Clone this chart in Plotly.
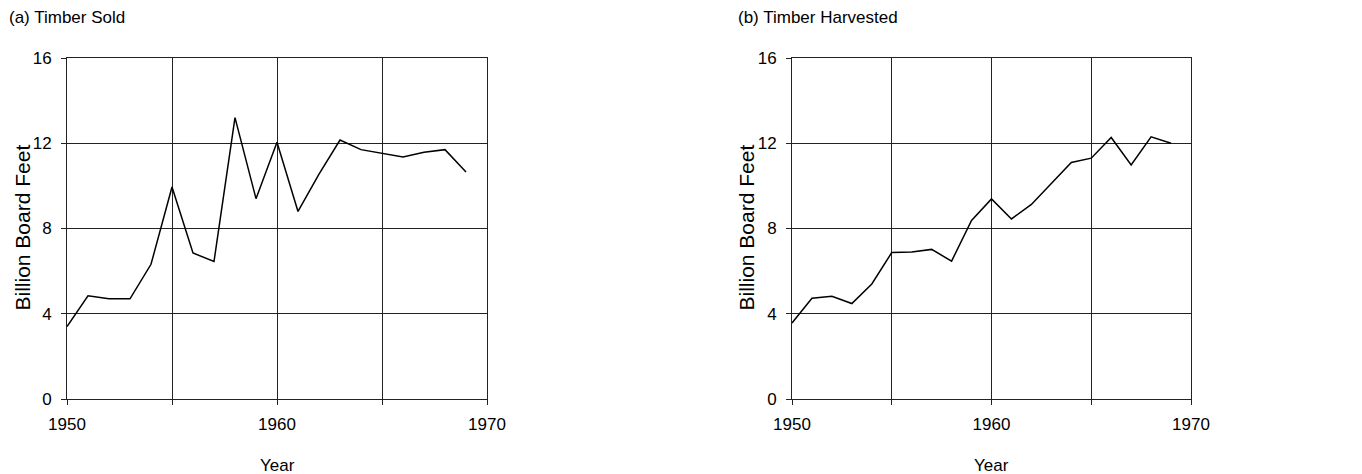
import plotly.graph_objects as go

years = list(range(1950, 1970))

# billion board feet
timber_sold = [3.40, 4.84, 4.70, 4.70, 6.32, 9.95, 6.85, 6.45, 13.2, 9.40,
               12.05, 8.80, 10.55, 12.15, 11.70, 11.52, 11.35, 11.58, 11.70, 10.65]
timber_harvested = [3.57, 4.73, 4.82, 4.48, 5.40, 6.87, 6.90, 7.02, 6.47, 8.38,
                    9.39, 8.45, 9.13, 10.10, 11.10, 11.30, 12.27, 10.98, 12.30, 12.00]

panel_titles = ["(a) Timber Sold", "(b) Timber Harvested"]
x_tickvals = [1950, 1955, 1960, 1965, 1970]
x_ticktext = ["1950", "", "1960", "", "1970"]
y_tickvals = [0, 4, 8, 12, 16]

FONT = "Liberation Sans, Arial, Helvetica, sans-serif"
# the page body has an 8px margin, so the figure is 8px smaller and
# every screen position is shifted by that amount
OFF = 8
W, H = 1362 - OFF, 474 - OFF


def px(x):
    return (x - OFF) / W


def py(y):
    return 1 - (y - OFF) / H


fig = go.Figure()
fig.add_trace(go.Scatter(x=years, y=timber_sold, mode="lines",
                         line=dict(color="black", width=1.5),
                         xaxis="x", yaxis="y", showlegend=False))
fig.add_trace(go.Scatter(x=years, y=timber_harvested, mode="lines",
                         line=dict(color="black", width=1.5),
                         xaxis="x2", yaxis="y2", showlegend=False))

ydom = [py(399), py(58)]
xdoms = [[px(67), px(487)], [px(792), px(1191)]]

common_x = dict(range=[1950, 1970], tickvals=x_tickvals, ticktext=x_ticktext,
                showgrid=True, gridcolor="#222", gridwidth=1,
                showline=True, linecolor="#222", linewidth=1, mirror=True,
                ticks="outside", ticklen=5, tickcolor="#222", ticklabelstandoff=5,
                tickfont=dict(size=17, color="black", family=FONT),
                zeroline=False, fixedrange=True, automargin=False)
common_y = dict(range=[0, 16], tickvals=y_tickvals,
                showgrid=True, gridcolor="#222", gridwidth=1,
                showline=True, linecolor="#222", linewidth=1, mirror=True,
                ticks="outside", ticklen=5, tickcolor="#222", ticklabelstandoff=6,
                tickfont=dict(size=17, color="black", family=FONT),
                zeroline=False, fixedrange=True, automargin=False)

fig.update_layout(
    width=W, height=H,
    margin=dict(l=0, r=0, t=0, b=0, autoexpand=False),
    paper_bgcolor="white", plot_bgcolor="white",
    font=dict(family=FONT, color="black"),
    xaxis=dict(domain=xdoms[0], anchor="y", **common_x),
    yaxis=dict(domain=ydom, anchor="x", **common_y),
    xaxis2=dict(domain=xdoms[1], anchor="y2", **common_x),
    yaxis2=dict(domain=ydom, anchor="x2", **common_y),
)

annotations = []
for i, (xd, title) in enumerate(zip(xdoms, panel_titles)):
    annotations.append(dict(text=title, x=px([7, 736][i]), y=py(18),
                            xref="paper", yref="paper", xanchor="left", yanchor="middle",
                            showarrow=False, font=dict(size=17, family=FONT)))
    annotations.append(dict(text="Year", x=(xd[0] + xd[1]) / 2, y=py(465),
                            xref="paper", yref="paper", xanchor="center", yanchor="middle",
                            showarrow=False, font=dict(size=17, family=FONT)))
    annotations.append(dict(text="Billion Board Feet", x=px([8, 732][i]), y=py(228),
                            xref="paper", yref="paper", xanchor="left", yanchor="middle",
                            textangle=-90, showarrow=False, font=dict(size=21, family=FONT)))
fig.update_layout(annotations=annotations)

fig.write_html("out.html")
